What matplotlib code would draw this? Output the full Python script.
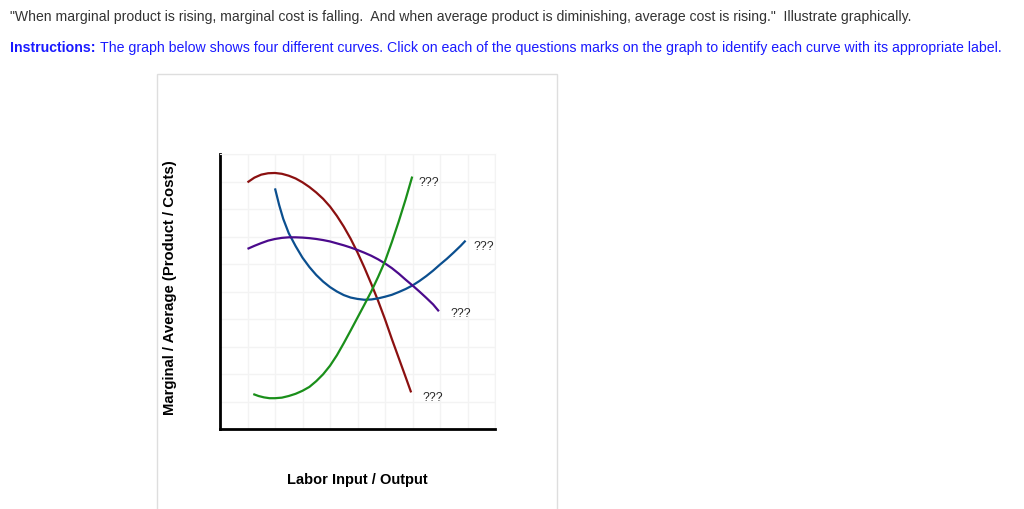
import matplotlib
matplotlib.use('Agg')
import matplotlib.pyplot as plt
from matplotlib.patches import Rectangle

plt.rcParams['font.family'] = ['Liberation Sans', 'DejaVu Sans']

# curve points (axes run 0..10 on both sides)
mp_x = [1.0, 1.25, 1.5, 1.75, 2.0, 2.25, 2.5, 2.75, 3.0, 3.25, 3.5, 3.75, 4.0, 4.25,
        4.5, 4.75, 5.0, 5.25, 5.5, 5.75, 6.0, 6.25, 6.5, 6.75, 6.95]
mp_y = [8.97, 9.14, 9.25, 9.30, 9.31, 9.28, 9.21, 9.11, 8.97, 8.80, 8.60, 8.37, 8.09, 7.75,
        7.36, 6.92, 6.42, 5.87, 5.28, 4.66, 3.99, 3.27, 2.58, 1.89, 1.33]

ac_x = [2.0, 2.15, 2.3, 2.5, 2.75, 3.0, 3.25, 3.5, 3.75, 4.0, 4.25, 4.5, 4.75, 5.0, 5.25,
        5.5, 5.75, 6.0, 6.25, 6.5, 6.75, 7.0, 7.25, 7.5, 7.75, 8.0, 8.25, 8.5, 8.75, 8.93]
ac_y = [8.75, 8.15, 7.64, 7.12, 6.65, 6.23, 5.89, 5.60, 5.36, 5.16, 5.00, 4.87, 4.78, 4.73, 4.70,
        4.71, 4.75, 4.81, 4.88, 4.98, 5.09, 5.22, 5.38, 5.56, 5.76, 5.98, 6.19, 6.42, 6.66, 6.85]

ap_x = [1.0, 1.25, 1.5, 1.75, 2.0, 2.25, 2.5, 2.75, 3.0, 3.25, 3.5, 3.75, 4.0, 4.25, 4.5,
        4.75, 5.0, 5.25, 5.5, 5.75, 6.0, 6.25, 6.5, 6.75, 7.0, 7.25, 7.5, 7.75, 7.96]
ap_y = [6.55, 6.66, 6.76, 6.85, 6.91, 6.95, 6.97, 6.97, 6.96, 6.94, 6.91, 6.87, 6.82, 6.75, 6.68,
        6.60, 6.51, 6.41, 6.30, 6.17, 6.02, 5.85, 5.65, 5.43, 5.22, 5.00, 4.77, 4.53, 4.28]

mc_x = [1.21, 1.4, 1.6, 1.8, 2.0, 2.25, 2.5, 2.75, 3.0, 3.25, 3.5, 3.75, 4.0, 4.25, 4.5,
        4.75, 5.0, 5.25, 5.5, 5.75, 6.0, 6.25, 6.5, 6.75, 6.99]
mc_y = [1.27, 1.20, 1.15, 1.12, 1.12, 1.14, 1.20, 1.28, 1.39, 1.53, 1.74, 1.99, 2.30, 2.68, 3.12,
        3.58, 4.05, 4.52, 5.00, 5.53, 6.10, 6.80, 7.55, 8.35, 9.18]

curve_labels = ['???', '???', '???', '???']

W, H = 1024, 510
fig = plt.figure(figsize=(W / 100, H / 100), dpi=100)

# light panel border around the chart
fig.patches.append(Rectangle((157 / W, -0.02), 400 / W, 1 - 75 / H + 0.02,
                             transform=fig.transFigure, facecolor='none',
                             edgecolor='#dedede', linewidth=1))

ax = fig.add_axes([220 / W, (H - 430) / H, 275 / W, 275 / H])
ax.set_xlim(0, 10)
ax.set_ylim(0, 10)
ax.set_xticks(range(11))
ax.set_yticks(range(11))
ax.tick_params(length=0, labelbottom=False, labelleft=False)
ax.grid(True, color='#f3f3f3', linewidth=1)
ax.set_axisbelow(True)
for s in ['top', 'right']:
    ax.spines[s].set_color('#f3f3f3')
for s in ['left', 'bottom']:
    ax.spines[s].set_color('black')
    ax.spines[s].set_linewidth(2)

style = dict(lw=1.6, solid_capstyle='butt', solid_joinstyle='round')
ax.plot(mp_x, mp_y, color='#8b1010', **style)
ax.plot(ac_x, ac_y, color='#0b4f8f', **style)
ax.plot(ap_x, ap_y, color='#4b0a8c', **style)
ax.plot(mc_x, mc_y, color='#1a8f1a', **style)

# question mark labels beside each curve end
lab_pos = [(7.21, 9.0), (9.21, 6.67), (8.39, 4.21), (7.35, 1.15)]
for (lx, ly), t in zip(lab_pos, curve_labels):
    ax.text(lx, ly, t, fontsize=8.8, color='#2a2a2a', ha='left', va='center')

fig.text(170 / W, 1 - 287.5 / H, 'Marginal / Average (Product / Costs)',
         rotation=90, ha='center', va='center', fontsize=10.7, fontweight='bold')
fig.text(357 / W, 1 - 480 / H, 'Labor Input / Output',
         ha='center', va='center', fontsize=10.5, fontweight='bold')

# header text
fig.text(10 / W, 1 - 17 / H,
         '"When marginal product is rising, marginal cost is falling.  And when average product is '
         'diminishing, average cost is rising."  Illustrate graphically.',
         ha='left', va='center', fontsize=10.1, color='#333333')
t1 = fig.text(10 / W, 1 - 48 / H, 'Instructions:', ha='left', va='center',
              fontsize=10.2, fontweight='bold', color='#1a1aff')
fig.canvas.draw()
bb = t1.get_window_extent()
fig.text(bb.x1 / W + 4 / W, 1 - 48 / H,
         'The graph below shows four different curves. Click on each of the questions marks on the '
         'graph to identify each curve with its appropriate label.',
         ha='left', va='center', fontsize=10.2, color='#1a1aff')

fig.savefig('out.png', dpi=100, facecolor='white')
